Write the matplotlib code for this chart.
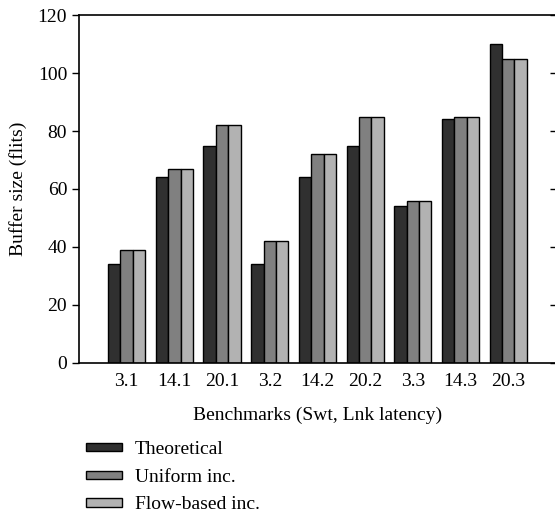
import numpy as np
import matplotlib
matplotlib.use('Agg')
import matplotlib.pyplot as plt

plt.rcParams['font.family'] = ['Liberation Serif', 'DejaVu Serif']

# data
benchmarks = ['3.1', '14.1', '20.1', '3.2', '14.2', '20.2', '3.3', '14.3', '20.3']
theoretical = [34, 64, 75, 34, 64, 75, 54, 84, 110]
uniform_inc = [39, 67, 82, 42, 72, 85, 56, 85, 105]
flow_inc = [39, 67, 82, 42, 72, 85, 56, 85, 105]

series = [('Theoretical', theoretical, '#303030'),
          ('Uniform inc.', uniform_inc, '#808080'),
          ('Flow-based inc.', flow_inc, '#b2b2b2')]

fs = 14

fig = plt.figure(figsize=(5.55, 5.14), dpi=100)
ax = fig.add_axes([0.1423, 0.2938, 0.8595, 0.677])

x = np.arange(1, len(benchmarks) + 1)
w = 0.26
for i, (name, vals, col) in enumerate(series):
    ax.bar(x + (i - 1) * w, vals, w, color=col, edgecolor='black',
           linewidth=1.0, label=name)

ax.set_xlim(0, 10)
ax.set_ylim(0, 120)
ax.set_yticks(np.arange(0, 121, 20))
ax.set_xticks(x)
ax.set_xticklabels(benchmarks)
ax.tick_params(axis='x', length=0, labelsize=fs, pad=7)
ax.tick_params(axis='y', direction='out', length=5, labelsize=fs, width=1)
ax.spines['right'].set_visible(False)
for s in ['left', 'top', 'bottom']:
    ax.spines[s].set_linewidth(1.2)

# inward ticks on the right side
ax2 = ax.twinx()
ax2.set_ylim(0, 120)
ax2.set_yticks(np.arange(0, 121, 20))
ax2.tick_params(axis='y', direction='in', length=4, labelright=False, width=1)
for s in ax2.spines.values():
    s.set_visible(False)

ax.set_ylabel('Buffer size (flits)', fontsize=fs, labelpad=8)
ax.set_xlabel('Benchmarks (Swt, Lnk latency)', fontsize=fs, labelpad=12)

handles, labels = ax.get_legend_handles_labels()
fig.legend(handles, labels, loc='upper left', bbox_to_anchor=(0.155, 0.142),
           frameon=False, fontsize=fs, handlelength=1.85, handleheight=0.28,
           handletextpad=0.65, labelspacing=0.55, borderaxespad=0, borderpad=0)

plt.savefig('out.png', dpi=100)
